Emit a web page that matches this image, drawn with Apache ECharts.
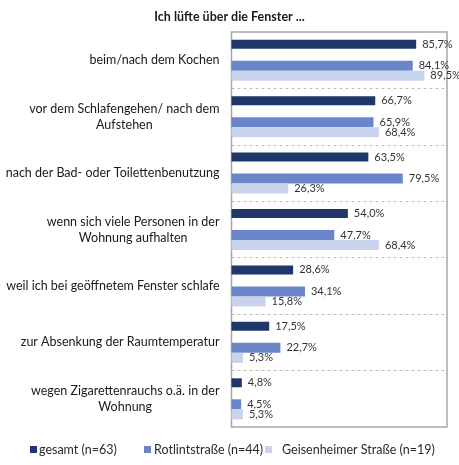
<!DOCTYPE html>
<html>
<head>
<meta charset="utf-8">
<script src="https://cdn.jsdelivr.net/npm/echarts@6/dist/echarts.min.js"></script>
<style>
  html, body { margin: 0; padding: 0; background: #fff; }
  #main { width: 459px; height: 465px; }
</style>
</head>
<body>
<div id="main"></div>
<script>
var categories = [
    'beim/nach dem Kochen',
    'vor dem Schlafengehen/ nach dem\nAufstehen',
    'nach der Bad- oder Toilettenbenutzung',
    'wenn sich viele Personen in der\nWohnung aufhalten',
    'weil ich bei geöffnetem Fenster schlafe',
    'zur Absenkung der Raumtemperatur',
    'wegen Zigarettenrauchs o.ä. in der\nWohnung'
];
var gesamt = [85.7, 66.7, 63.5, 54.0, 28.6, 17.5, 4.8];
var rotlint = [84.1, 65.9, 79.5, 47.7, 34.1, 22.7, 4.5];
var geisenheim = [89.5, 68.4, 26.3, 68.4, 15.8, 5.3, 5.3];
var seriesNames = ['gesamt (n=63)', 'Rotlintstraße (n=44)', 'Geisenheimer Straße (n=19)'];

(function() {
    var myChart = echarts.init(document.getElementById('main'));
    var font = 'Lato, "Liberation Sans", sans-serif';

    // Prozentwerte mit Komma
    function fmt(p) {
        return p.value.toFixed(1).replace('.', ',') + '%';
    }
    var label = {
        show: true,
        position: 'right',
        distance: 6,
        formatter: fmt,
        fontFamily: font,
        fontSize: 11,
        color: '#333'
    };

    function legendAt(left, name, pad) {
        return {
            left: left,
            top: 443,
            icon: 'rect',
            itemWidth: 7,
            itemHeight: 7,
            itemGap: 0,
            padding: 0,
            selectedMode: false,
            data: [name],
            textStyle: { fontFamily: font, fontSize: 12.5, color: '#2a2a2a', padding: [0, 0, 0, pad] }
        };
    }

    var option = {
        animation: false,
        title: {
            text: 'Ich lüfte über die Fenster ...',
            left: 'center',
            top: 5,
            textStyle: { fontFamily: font, fontSize: 12.5, fontWeight: 'bold', color: '#1a1a1a' }
        },
        legend: [
            legendAt(30, seriesNames[0], -3),
            legendAt(144, seriesNames[1], -2),
            legendAt(265, seriesNames[2], 5)
        ],
        grid: {
            left: 231.5,
            top: 32,
            right: 12,
            bottom: 38,
            show: true,
            borderColor: '#a6a6a6',
            borderWidth: 1.5
        },
        xAxis: {
            type: 'value',
            min: 0,
            max: 100,
            axisLine: { show: false },
            axisTick: { show: false },
            axisLabel: { show: false },
            splitLine: { show: false }
        },
        yAxis: {
            type: 'category',
            inverse: true,
            data: categories,
            axisLine: { show: false },
            axisTick: { show: false },
            splitLine: {
                show: true,
                lineStyle: { color: '#bdbdbd', type: [3, 3], width: 1 }
            },
            axisLabel: {
                margin: 12,
                formatter: function(v) {
                    return v.split('\n').map(function(s) { return '{c|' + s + '}'; }).join('\n');
                },
                rich: {
                    c: { align: 'center', fontFamily: font, fontSize: 12.5, color: '#1a1a1a', lineHeight: 16 }
                }
            }
        },
        series: [
            {
                name: seriesNames[0],
                type: 'bar',
                barWidth: 9,
                barGap: 0,
                itemStyle: { color: '#1f3769' },
                label: label,
                data: gesamt
            },
            {
                name: 'leer',
                type: 'bar',
                barWidth: 12,
                barGap: 0,
                silent: true,
                data: categories.map(function() { return '-'; })
            },
            {
                name: seriesNames[1],
                type: 'bar',
                barWidth: 10,
                barGap: 0,
                itemStyle: { color: '#6b86c8' },
                label: label,
                data: rotlint
            },
            {
                name: seriesNames[2],
                type: 'bar',
                barWidth: 10,
                barGap: 0,
                itemStyle: { color: '#c8d4ec' },
                label: label,
                data: geisenheim
            }
        ]
    };

    myChart.setOption(option);
})();
</script>
</body>
</html>
